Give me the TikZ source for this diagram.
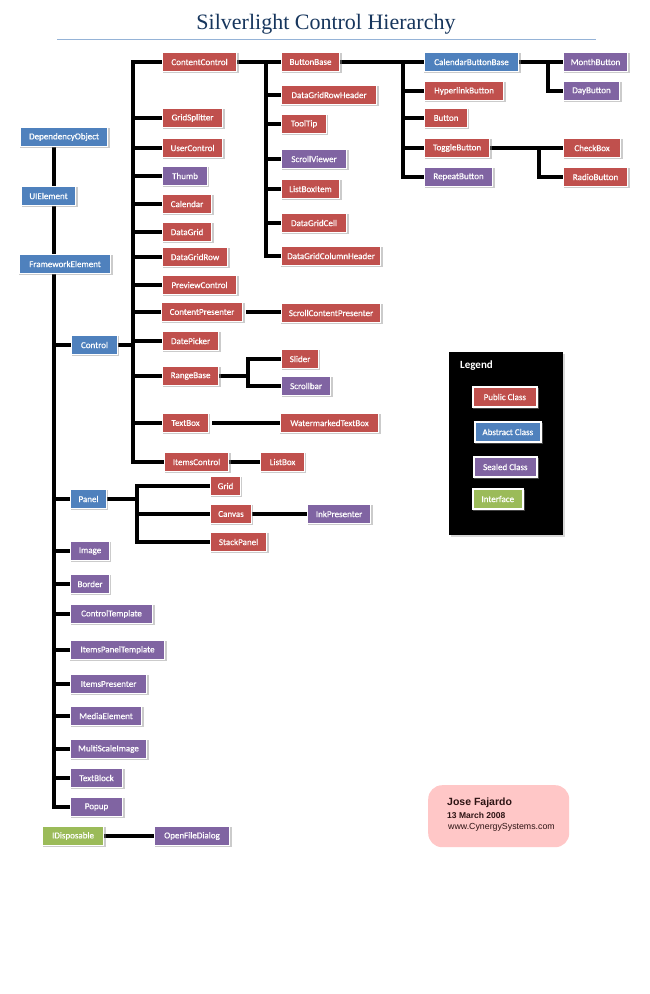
\documentclass[tikz,border=0pt]{standalone}
\usepackage{fontspec}
\setmainfont{Carlito}
\newfontfamily\boxfont[FakeBold=0.5]{Carlito}
\newfontfamily\titlefont{Liberation Serif}
\newfontfamily\sigfont{Liberation Sans}
\usetikzlibrary{shadows,backgrounds}
\definecolor{pubc}{RGB}{192,80,77}
\definecolor{absc}{RGB}{79,129,189}
\definecolor{seac}{RGB}{128,100,162}
\definecolor{ifcc}{RGB}{155,187,89}
\definecolor{titleblue}{RGB}{23,54,93}
\definecolor{ruleblue}{RGB}{149,179,215}
\definecolor{sigpink}{RGB}{255,199,199}
\definecolor{sigtext}{RGB}{45,20,20}
\tikzset{
  cls/.style={anchor=west, minimum height=19pt, inner sep=0pt, text=white,
    font=\boxfont\fontsize{9}{10}\selectfont, draw=white, line width=1.1pt,
    drop shadow={shadow xshift=1.2pt, shadow yshift=-1.2pt, shadow scale=1.03, fill=black!45, opacity=0.45}},
  pubbox/.style={cls, fill=pubc},
  absbox/.style={cls, fill=absc},
  sealbox/.style={cls, fill=seac},
  ifbox/.style={cls, fill=ifcc},
  legbox/.style={line width=1.6pt, minimum height=20pt},
  conn/.style={line width=3.2pt, black},
}
\begin{document}
\begin{tikzpicture}[x=1pt,y=-1pt]
\useasboundingbox (0,0) rectangle (650,994);
% title
\node[font=\titlefont\fontsize{22}{26}\selectfont, text=titleblue] (title) at (326,24) {Silverlight Control Hierarchy};
\draw[ruleblue, line width=1pt] (57,39) -- (596,39);

% left column
\node[absbox, minimum width=87pt] (do) at (20,137) {DependencyObject};
\node[absbox, minimum width=54pt] (ui) at (21,196) {UIElement};
\node[absbox, minimum width=91pt] (fe) at (19,264) {FrameworkElement};
\node[absbox, minimum width=46pt] (ctrl) at (71,345) {Control};

% control children
\node[pubbox, minimum width=74pt] (cc) at (162,62) {ContentControl};
\node[pubbox, minimum width=60pt] (gs) at (162,118) {GridSplitter};
\node[pubbox, minimum width=60pt] (uc) at (162,148) {UserControl};
\node[sealbox, minimum width=45pt] (thumb) at (162,176) {Thumb};
\node[pubbox, minimum width=49pt] (cal) at (162,204) {Calendar};
\node[pubbox, minimum width=49pt] (dg) at (162,232) {DataGrid};
\node[pubbox, minimum width=65pt] (dgr) at (162,257) {DataGridRow};
\node[pubbox, minimum width=74pt] (pc) at (162,285) {PreviewControl};
\node[pubbox, minimum width=81pt] (cp) at (161,312) {ContentPresenter};
\node[pubbox, minimum width=56pt] (dp) at (162,341) {DatePicker};
\node[pubbox, minimum width=56pt] (rb) at (162,376) {RangeBase};
\node[pubbox, minimum width=46pt] (tb) at (162,423) {TextBox};
\node[pubbox, minimum width=64pt] (ic) at (164,462) {ItemsControl};

% content control children
\node[pubbox, minimum width=58pt] (bb) at (281,62) {ButtonBase};
\node[pubbox, minimum width=95pt] (dgrh) at (281,95) {DataGridRowHeader};
\node[pubbox, minimum width=45pt] (tt) at (281,124) {ToolTip};
\node[sealbox, minimum width=65pt] (sv) at (281,159) {ScrollViewer};
\node[pubbox, minimum width=58pt] (lbi) at (281,189) {ListBoxItem};
\node[pubbox, minimum width=65pt] (dgc) at (281,223) {DataGridCell};
\node[pubbox, minimum width=99pt] (dgch) at (281,256) {DataGridColumnHeader};

% button base children
\node[absbox, minimum width=94pt] (cbb) at (424,62) {CalendarButtonBase};
\node[pubbox, minimum width=79pt] (hb) at (424,91) {HyperlinkButton};
\node[pubbox, minimum width=43pt] (btn) at (424,118) {Button};
\node[pubbox, minimum width=65pt] (tgb) at (424,148) {ToggleButton};
\node[sealbox, minimum width=68pt] (rpb) at (424,177) {RepeatButton};
\node[sealbox, minimum width=64pt] (mb) at (563,62) {MonthButton};
\node[sealbox, minimum width=56pt] (db) at (563,91) {DayButton};
\node[pubbox, minimum width=57pt] (chk) at (563,148) {CheckBox};
\node[pubbox, minimum width=64pt] (rdb) at (563,177) {RadioButton};

% other control descendants
\node[pubbox, minimum width=99pt] (scp) at (281,313) {ScrollContentPresenter};
\node[pubbox, minimum width=37pt] (sld) at (281,359) {Slider};
\node[sealbox, minimum width=49pt] (scb) at (281,386) {Scrollbar};
\node[pubbox, minimum width=98pt] (wtb) at (280,423) {WatermarkedTextBox};
\node[pubbox, minimum width=44pt] (lb) at (260,462) {ListBox};

% panel
\node[absbox, minimum width=36pt] (panel) at (70,499) {Panel};
\node[pubbox, minimum width=30pt] (grid) at (210,486) {Grid};
\node[pubbox, minimum width=41pt] (canvas) at (210,514) {Canvas};
\node[pubbox, minimum width=56pt] (sp) at (210,542) {StackPanel};
\node[sealbox, minimum width=63pt] (ink) at (307,514) {InkPresenter};

% sealed leaves
\node[sealbox, minimum width=39pt] (img) at (70,551) {Image};
\node[sealbox, minimum width=39pt] (border) at (70,584) {Border};
\node[sealbox, minimum width=82pt] (ct) at (70,614) {ControlTemplate};
\node[sealbox, minimum width=94pt] (ipt) at (70,650) {ItemsPanelTemplate};
\node[sealbox, minimum width=76pt] (ip) at (70,684) {ItemsPresenter};
\node[sealbox, minimum width=71pt] (me) at (70,716) {MediaElement};
\node[sealbox, minimum width=76pt] (msi) at (70,749) {MultiScaleImage};
\node[sealbox, minimum width=52pt] (tbl) at (70,778) {TextBlock};
\node[sealbox, minimum width=52pt] (popup) at (70,807) {Popup};

\node[ifbox, minimum width=61pt] (idisp) at (42,836) {IDisposable};
\node[sealbox, minimum width=75pt] (ofd) at (154,836) {OpenFileDialog};

% legend
\node[fill=black, inner sep=0pt, minimum width=114pt, minimum height=183pt, anchor=north west,
  drop shadow={shadow xshift=1.5pt, shadow yshift=-1.5pt, fill=black!30, opacity=0.5}] (legend) at (449,352) {};
\node[anchor=west, inner sep=0pt, text=white, font=\bfseries\fontsize{11}{12}\selectfont] (legtitle) at (460,366) {Legend};
\node[pubbox, legbox, minimum width=64pt] (lpub) at (472,397) {Public Class};
\node[absbox, legbox, minimum width=66pt] (labs) at (474,432) {Abstract Class};
\node[sealbox, legbox, minimum width=63pt] (lsea) at (473,467) {Sealed Class};
\node[ifbox, legbox, minimum width=50pt] (lifc) at (472,499) {Interface};

% signature
\node[fill=sigpink, rounded corners=14pt, inner sep=0pt, minimum width=141pt, minimum height=62pt, anchor=north west] (sig) at (428,785) {};
\node[anchor=west, inner sep=0pt, text=sigtext, font=\sigfont\bfseries\fontsize{10.5}{12}\selectfont] (signame) at (447,803) {Jose Fajardo};
\node[anchor=west, inner sep=0pt, text=sigtext, font=\sigfont\bfseries\fontsize{8.5}{10}\selectfont] (sigdate) at (447,815) {13 March 2008};
\node[anchor=west, inner sep=0pt, text=sigtext, font=\sigfont\fontsize{8.8}{10}\selectfont] (sigweb) at (448,827) {www.CynergySystems.com};

% trunk coordinates
\coordinate (T1) at (54,0);
\coordinate (T2) at (133,0);
\coordinate (T3) at (266,0);
\coordinate (T4) at (403,0);
\coordinate (T5) at (548,0);
\coordinate (T6) at (539,0);
\coordinate (T7) at (248,0);
\coordinate (T8) at (137,0);

\begin{scope}[on background layer]
\fill[white] (0,0) rectangle (650,994);
\draw[conn] (do.south -| T1) -- (ui.north -| T1);
\draw[conn] (ui.south -| T1) -- (fe.north -| T1);
\draw[conn] (fe.south -| T1) -- (T1 |- popup.west) -- (popup.west);
\foreach \n in {ctrl,panel,img,border,ct,ipt,ip,me,msi,tbl}
  \draw[conn] (T1 |- \n.west) -- (\n.west);
\draw[conn] (ctrl.east) -- (T2 |- ctrl.east);
\draw[conn] (cc.west) -- (T2 |- cc.west) -- (T2 |- ic.west) -- (ic.west);
\foreach \n in {gs,uc,thumb,cal,dg,dgr,pc,cp,dp,rb,tb}
  \draw[conn] (T2 |- \n.west) -- (\n.west);
\draw[conn] (cc.east) -- (bb.west);
\draw[conn] (T3 |- bb.west) -- (T3 |- dgch.west) -- (dgch.west);
\foreach \n in {dgrh,tt,sv,lbi,dgc}
  \draw[conn] (T3 |- \n.west) -- (\n.west);
\draw[conn] (bb.east) -- (cbb.west);
\draw[conn] (T4 |- cbb.west) -- (T4 |- rpb.west) -- (rpb.west);
\foreach \n in {hb,btn,tgb}
  \draw[conn] (T4 |- \n.west) -- (\n.west);
\draw[conn] (cbb.east) -- (mb.west);
\draw[conn] (T5 |- mb.west) -- (T5 |- db.west) -- (db.west);
\draw[conn] (tgb.east) -- (chk.west);
\draw[conn] (T6 |- chk.west) -- (T6 |- rdb.west) -- (rdb.west);
\draw[conn] ([xshift=3pt]cp.east) -- (cp.east -| scp.west);
\draw[conn] (rb.east) -- (T7 |- rb.east);
\draw[conn] (sld.west) -- (T7 |- sld.west) -- (T7 |- scb.west) -- (scb.west);
\draw[conn] ([xshift=3pt]tb.east) -- (tb.east -| wtb.west);
\draw[conn] (ic.east) -- (ic.east -| lb.west);
\draw[conn] (panel.east) -- (T8 |- panel.east);
\draw[conn] (grid.west) -- (T8 |- grid.west) -- (T8 |- sp.west) -- (sp.west);
\draw[conn] (T8 |- canvas.west) -- (canvas.west);
\draw[conn] (canvas.east) -- (ink.west);
\draw[conn] (idisp.east) -- (ofd.west);
\end{scope}
\end{tikzpicture}
\end{document}
